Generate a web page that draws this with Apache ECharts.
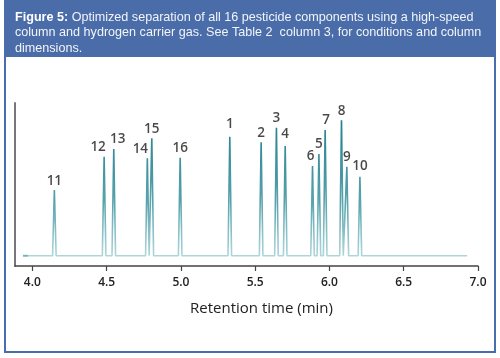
<!DOCTYPE html>
<html>
<head>
<meta charset="utf-8">
<style>html,body{margin:0;padding:0;background:#fff;}#c{width:500px;height:358px;}</style>
<script src="https://cdn.jsdelivr.net/npm/echarts@6/dist/echarts.min.js"></script>
</head>
<body>
<div id="c"></div>
<script>
// ---- data ----
const peakLabels = ['11','12','13','14','15','16','1','2','3','4','6','5','7','8','9','10'];
const peakTimes  = [4.148,4.483,4.548,4.774,4.804,4.995,5.329,5.540,5.643,5.702,5.886,5.929,5.971,6.081,6.117,6.205];
const peakHeights= [76,109.3,117,107.7,127.7,108.3,129.3,123.7,138.3,120,100,112,136,145.7,99.3,89.3];
const baselineLevel = 10.3;
const traceStart = 3.937;
const traceEnd = 6.927;
const initialSegmentEnd = 3.97;
const peakHalfWidth = 0.012;
const xTicks = [4.0, 4.5, 5.0, 5.5, 6.0, 6.5, 7.0];
const xAxisTitle = 'Retention time (min)';
const captionBold = 'Figure 5:';
const captionLines = [
  ' Optimized separation of all 16 pesticide components using a high-speed',
  'column and hydrogen carrier gas. See Table 2  column 3, for conditions and column',
  'dimensions.'
];

// ---- label nudges (style only) ----
const labelNudge = {'12':[-6,0],'13':[4,0],'14':[-7,0],'6':[-2,0],'7':[1,0],'1':[0,-3],'4':[0,-2],'10':[0,-1],'11':[0,1]};

// build trace from peak table
const order = peakTimes.map((t,i)=>i).sort((a,b)=>peakTimes[a]-peakTimes[b]);
const trace = [[traceStart, baselineLevel]];
order.forEach(i=>{
  trace.push([peakTimes[i]-peakHalfWidth, baselineLevel]);
  trace.push([peakTimes[i], peakHeights[i]]);
  trace.push([peakTimes[i]+peakHalfWidth, baselineLevel]);
});
trace.push([traceEnd, baselineLevel]);

const labelData = peakLabels.map((n,i)=>({
  name:n, value:[peakTimes[i], peakHeights[i]],
  label:{offset: labelNudge[n] || [0,0]}
}));

const chart = echarts.init(document.getElementById('c'), null, {renderer:'canvas'});
chart.setOption({
  animation:false,
  backgroundColor:'#ffffff',
  graphic:[
    {type:'rect', z:-10, shape:{x:5,y:0,width:490,height:352}, style:{fill:'#ffffff', stroke:'#4a6db0', lineWidth:2}},
    {type:'rect', z:-9, shape:{x:5,y:0,width:490,height:57}, style:{fill:'#4a6daa'}},
    {type:'text', z:-8, left:15, top:11, style:{
      text:'{b|'+captionBold+'}{n|'+captionLines[0]+'}\n{n|'+captionLines[1]+'}\n{n|'+captionLines[2]+'}',
      rich:{
        b:{fill:'#ffffff', fontFamily:'Liberation Sans', fontSize:12.6, fontWeight:'bold', lineHeight:15.5},
        n:{fill:'#f2f4f8', fontFamily:'Liberation Sans', fontSize:12.6, lineHeight:15.5}
      }
    }}
  ],
  grid:{left:15, right:22, top:103, bottom:92, containLabel:false},
  xAxis:{
    type:'value', min:3.883, max:7.0,
    name:xAxisTitle, nameLocation:'middle', nameGap:35,
    nameTextStyle:{fontFamily:'Open Sans', fontSize:15, color:'#222', padding:[0,0,0,30]},
    axisLine:{show:true, lineStyle:{color:'#444', width:1.5}},
    axisTick:{show:true, length:5, lineStyle:{color:'#444', width:1.2}, customValues:xTicks},
    axisLabel:{customValues:xTicks, formatter:v=>v.toFixed(1), margin:11, fontFamily:'Open Sans', fontSize:12, fontWeight:600, color:'#222'},
    splitLine:{show:false}
  },
  yAxis:{
    type:'value', min:0, max:163,
    axisLine:{show:true, lineStyle:{color:'#777', width:2}},
    axisTick:{show:false}, axisLabel:{show:false}, splitLine:{show:false}
  },
  series:[
    {
      type:'line', data:trace, showSymbol:false, silent:true,
      lineStyle:{width:1.6, color:new echarts.graphic.LinearGradient(0,120,0,256,[
        {offset:0,color:'#237f8d'},{offset:0.6,color:'#58a3ad'},{offset:1,color:'#afd6da'}],true)}
    },
    {
      type:'line', data:[[traceStart, baselineLevel],[initialSegmentEnd, baselineLevel]], showSymbol:false, silent:true,
      lineStyle:{width:1.8, color:'#6fb3bc'}
    },
    {
      type:'scatter', data:labelData, symbolSize:1, itemStyle:{color:'rgba(0,0,0,0)'}, silent:true,
      label:{show:true, position:'top', distance:2, formatter:'{b}', fontFamily:'Open Sans', fontSize:13.5, fontWeight:600, color:'#1c1a1b'}
    }
  ]
});
</script>
</body>
</html>
